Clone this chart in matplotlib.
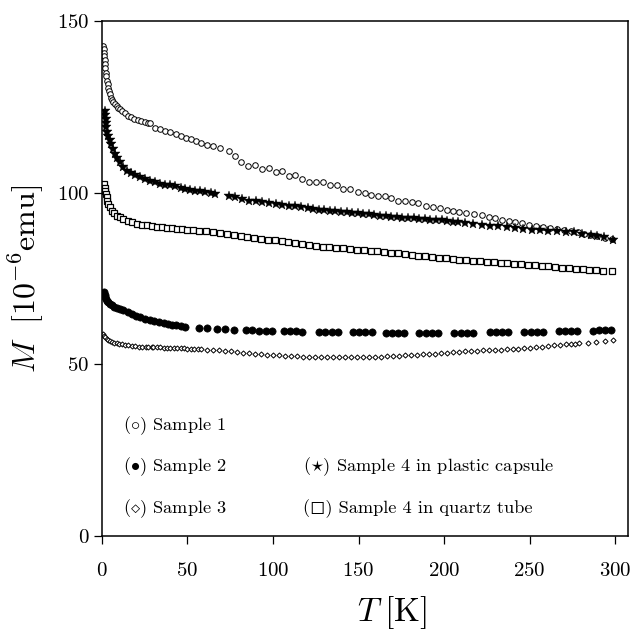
import matplotlib
matplotlib.use("Agg")
import matplotlib.pyplot as plt

plt.rcParams['font.family'] = ['cmr10', 'DejaVu Serif']
plt.rcParams['mathtext.fontset'] = 'cm'
plt.rcParams['axes.formatter.use_mathtext'] = True

# (T [K], M [1e-6 emu])
sample1 = [
    (0.8, 142.7), (1.0, 141.8), (1.2, 140.8), (1.4, 139.8), (1.6, 138.6), (1.8, 137.4),
    (2.0, 136.4), (2.3, 135.0), (2.6, 134.0), (3.0, 132.6), (3.3, 131.6), (3.7, 130.5),
    (4.2, 129.5), (4.7, 128.7), (5.3, 127.7), (6.0, 126.9), (6.6, 126.3), (7.5, 125.7),
    (8.5, 125.2), (9.5, 124.7), (10.6, 124.3), (12.0, 123.8), (13.5, 123.1), (15.5, 122.4),
    (17.0, 122.0), (19.0, 121.6), (21.3, 121.1), (23.0, 120.8), (25.0, 120.6), (27.0, 120.3),
    (28.2, 120.2), (31.0, 118.8), (34.0, 118.6), (37.0, 118.0), (40.0, 117.6), (43.0, 117.0),
    (46.0, 116.4), (49.0, 115.9), (52.0, 115.6), (55.0, 115.1), (58.0, 114.6), (61.5, 114.0),
    (65.0, 113.6), (69.0, 113.0), (74.0, 112.0), (78.0, 110.8), (81.5, 109.0), (85.5, 107.8),
    (89.5, 108.1), (93.5, 107.0), (97.5, 107.2), (101.5, 105.9), (105.5, 106.2), (109.5, 105.0),
    (113.0, 105.1), (117.0, 104.0), (121.0, 103.0), (125.0, 103.2), (129.0, 103.2), (133.5, 102.2),
    (137.5, 102.2), (141.0, 101.1), (145.0, 101.1), (149.5, 100.1), (153.5, 99.9), (157.5, 99.4),
    (161.5, 99.0), (165.5, 99.0), (169.0, 98.5), (173.0, 97.7), (177.0, 97.5), (181.0, 97.3),
    (185.0, 97.0), (189.5, 96.2), (193.5, 95.8), (197.5, 95.4), (201.5, 95.1), (205.5, 94.8),
    (209.0, 94.4), (213.0, 94.2), (217.5, 93.8), (222.0, 93.4), (226.0, 92.9), (230.0, 92.5),
    (234.0, 92.1), (238.0, 91.8), (241.5, 91.4), (245.5, 91.1), (249.5, 90.7), (253.5, 90.4),
    (258.0, 90.1), (262.0, 89.8), (266.0, 89.4), (270.0, 89.1), (274.0, 88.8), (278.0, 88.5),
    (282.0, 88.1), (285.5, 87.7), (289.5, 87.4), (294.0, 86.8), (298.0, 86.5),
]

sample2 = [
    (1.4, 71.0), (1.6, 70.3), (1.8, 69.6), (2.4, 69.0), (3.0, 68.5), (3.7, 68.1), (4.6, 67.6),
    (5.7, 67.2), (7.0, 66.8), (8.5, 66.5), (10.6, 66.2), (12.5, 65.7), (15.0, 65.2), (17.4, 64.7),
    (20.0, 64.2), (22.5, 63.7), (25.2, 63.3), (28.0, 62.9), (30.5, 62.6), (33.1, 62.3),
    (36.0, 62.0), (38.5, 61.8), (40.9, 61.6), (43.5, 61.4), (46.0, 61.2), (48.7, 61.0),
    (56.5, 60.7), (61.5, 60.6), (67.3, 60.4), (72.2, 60.3), (77.1, 60.1),
    (84.0, 59.9), (87.9, 59.9), (91.8, 59.8), (95.7, 59.8), (99.6, 59.7),
    (106.5, 59.7), (110.0, 59.6), (113.5, 59.6), (117.0, 59.5),
    (127.0, 59.5), (130.6, 59.4), (134.2, 59.4), (137.8, 59.4),
    (146.8, 59.3), (150.4, 59.3), (154.0, 59.3), (157.6, 59.3),
    (166.0, 59.2), (169.6, 59.2), (173.2, 59.2), (176.8, 59.2),
    (185.6, 59.2), (189.2, 59.2), (192.8, 59.2), (196.4, 59.2),
    (206.0, 59.2), (209.6, 59.2), (213.2, 59.2), (216.8, 59.2),
    (226.7, 59.3), (230.3, 59.3), (233.9, 59.3), (237.5, 59.3),
    (247.0, 59.4), (250.6, 59.4), (254.2, 59.4), (257.8, 59.5),
    (267.0, 59.6), (270.6, 59.6), (274.2, 59.7), (277.8, 59.7),
    (287.0, 59.8), (290.6, 59.9), (294.2, 59.9), (297.8, 60.0),
]

sample3 = [
    (0.8, 58.7), (1.2, 58.2), (1.8, 57.9), (2.7, 57.5), (3.5, 57.1), (4.5, 56.8), (5.7, 56.5),
    (7.0, 56.3), (8.5, 56.1), (10.0, 55.95), (11.5, 55.8), (13.5, 55.6), (15.5, 55.5),
    (17.5, 55.4), (19.4, 55.3), (21.5, 55.2), (23.5, 55.1), (25.5, 55.05), (27.2, 55.0),
    (29.0, 55.0), (30.0, 55.0), (32.0, 55.0), (34.0, 54.95), (36.0, 54.9), (38.0, 54.85),
    (40.0, 54.8), (42.0, 54.75), (44.0, 54.7), (46.0, 54.7), (48.0, 54.65), (50.0, 54.6),
    (52.0, 54.55), (54.0, 54.5), (56.0, 54.45), (58.0, 54.4), (61.5, 54.3), (65.0, 54.2),
    (68.5, 54.1), (72.0, 54.0), (75.5, 53.85), (79.0, 53.65), (82.5, 53.45), (86.0, 53.3),
    (89.5, 53.1), (93.0, 52.95), (96.5, 52.8), (100.0, 52.7), (103.5, 52.6), (107.0, 52.5),
    (110.5, 52.4), (114.0, 52.3), (117.5, 52.25), (121.0, 52.2), (124.5, 52.15), (128.0, 52.1),
    (131.5, 52.1), (135.0, 52.05), (138.5, 52.05), (142.0, 52.05), (145.5, 52.05), (149.0, 52.1),
    (152.5, 52.1), (156.0, 52.15), (159.5, 52.2), (163.0, 52.25), (166.5, 52.3), (170.0, 52.4),
    (173.5, 52.5), (177.0, 52.6), (180.5, 52.7), (184.0, 52.8), (187.5, 52.9), (191.0, 53.0),
    (194.5, 53.15), (198.0, 53.3), (201.5, 53.45), (205.0, 53.55), (208.5, 53.65), (212.0, 53.75),
    (215.5, 53.85), (219.0, 53.95), (222.5, 54.05), (226.0, 54.1), (229.5, 54.2), (233.0, 54.3),
    (236.5, 54.4), (240.0, 54.5), (243.5, 54.6), (247.0, 54.75), (250.5, 54.9), (254.0, 55.05),
    (257.5, 55.2), (261.0, 55.35), (264.5, 55.5), (268.0, 55.6), (271.5, 55.8), (274.0, 55.9),
    (276.5, 56.0), (279.0, 56.1), (284.0, 56.3), (289.0, 56.55), (294.0, 56.8), (299.0, 57.2),
]

plastic = [
    (1.8, 123.8), (2.0, 122.5), (2.1, 121.4), (2.3, 120.2), (2.5, 119.0), (3.0, 117.8),
    (3.7, 116.6), (4.5, 115.4), (5.3, 114.2), (6.4, 112.7), (7.6, 111.2), (9.0, 110.0),
    (10.5, 108.8), (12.5, 107.6), (14.5, 106.4), (17.0, 105.8), (19.4, 105.2), (22.0, 104.6),
    (25.2, 104.0), (28.0, 103.5), (31.1, 103.0), (34.0, 102.6), (37.0, 102.3), (40.0, 102.1),
    (42.9, 102.0), (46.0, 101.5), (48.7, 101.1), (51.5, 100.9), (54.6, 100.6), (57.5, 100.4),
    (60.5, 100.1), (63.5, 99.8), (66.3, 99.6), (74.2, 99.1), (78.0, 98.6), (82.0, 98.1),
    (85.9, 97.7), (89.8, 97.5), (93.8, 97.2), (97.7, 97.0), (101.6, 96.8), (105.5, 96.5),
    (109.4, 96.2), (113.0, 96.1), (116.5, 95.8), (120.2, 95.5), (123.5, 95.3), (126.8, 95.1),
    (130.0, 94.9), (133.3, 94.8), (136.5, 94.6), (139.8, 94.5), (143.0, 94.3), (146.3, 94.2),
    (149.6, 94.0), (152.8, 93.8), (156.0, 93.7), (159.3, 93.5), (162.5, 93.3), (165.8, 93.2),
    (169.1, 93.0), (172.4, 92.9), (175.6, 92.7), (178.9, 92.6), (182.2, 92.5), (185.4, 92.4),
    (188.7, 92.3), (192.0, 92.1), (195.2, 92.0), (198.5, 91.9), (201.8, 91.7), (205.0, 91.6),
    (208.3, 91.4), (212.0, 91.2), (217.0, 90.9), (222.0, 90.7), (226.8, 90.4), (231.5, 90.2),
    (236.6, 89.9), (241.5, 89.6), (246.4, 89.4), (251.3, 89.2), (256.2, 89.1), (261.0, 88.9),
    (266.0, 88.8), (271.0, 88.6), (275.8, 88.5), (280.7, 88.1), (285.6, 87.8), (289.5, 87.5),
    (293.4, 87.2), (298.9, 86.3),
]

quartz = [
    (1.4, 102.5), (1.6, 101.5), (1.8, 100.6), (2.2, 99.6), (2.7, 98.6), (3.2, 97.6), (3.7, 96.7),
    (4.6, 95.7), (5.7, 94.8), (7.0, 94.0), (8.6, 93.3), (10.5, 92.8), (12.5, 92.3), (15.0, 91.8),
    (17.4, 91.4), (20.4, 91.0), (23.3, 90.7), (26.2, 90.5), (29.2, 90.4), (32.0, 90.1),
    (35.0, 89.9), (38.0, 89.7), (41.0, 89.6), (44.0, 89.5), (46.8, 89.4), (50.0, 89.2),
    (53.0, 89.1), (57.0, 88.9), (61.0, 88.7), (65.0, 88.5), (69.0, 88.2), (73.0, 88.0),
    (77.0, 87.7), (81.0, 87.4), (85.0, 87.1), (89.0, 86.9), (93.0, 86.6), (97.0, 86.3),
    (101.0, 86.1), (105.0, 85.9), (109.0, 85.6), (113.0, 85.2), (117.0, 85.0), (121.0, 84.7),
    (125.0, 84.5), (129.0, 84.3), (133.0, 84.1), (137.0, 83.9), (141.0, 83.8), (145.0, 83.6),
    (149.0, 83.4), (153.0, 83.3), (157.0, 83.1), (161.0, 82.9), (165.0, 82.7), (169.0, 82.5),
    (173.0, 82.3), (177.0, 82.1), (181.0, 81.9), (185.0, 81.7), (189.0, 81.6), (193.0, 81.4),
    (197.0, 81.1), (201.0, 80.9), (205.0, 80.7), (209.0, 80.5), (213.0, 80.3), (217.0, 80.2),
    (221.0, 80.1), (225.0, 79.9), (229.0, 79.8), (233.0, 79.6), (237.0, 79.5), (241.0, 79.3),
    (245.0, 79.2), (249.0, 79.0), (253.0, 78.9), (257.0, 78.7), (261.0, 78.6), (265.0, 78.4),
    (269.0, 78.2), (273.0, 78.0), (277.0, 77.8), (281.0, 77.7), (285.0, 77.5), (289.0, 77.4),
    (293.0, 77.2), (298.0, 77.1),
]

labels = [r"($\circ$) Sample 1", r"($\bullet$) Sample 2", r"($\diamond$) Sample 3",
          r"($\star$) Sample 4 in plastic capsule", "(\u25fb) Sample 4 in quartz tube"]

fig = plt.figure(figsize=(6.31, 6.33), dpi=100)
ax = fig.add_axes([0.1616, 0.1532, 0.8336, 0.8136])


def plot_series(data, **kw):
    t = [p[0] for p in data]
    m = [p[1] for p in data]
    ax.plot(t, m, linestyle='none', **kw)


plot_series(sample1, marker='o', ms=4.0, mfc='white', mec='black', mew=0.7)
plot_series(plastic, marker='*', ms=7.5, mfc='black', mec='black', mew=0.3)
plot_series(quartz, marker='s', ms=4.8, mfc='white', mec='black', mew=0.9)
plot_series(sample2, marker='o', ms=5.2, mfc='black', mec='black', mew=0.5)
plot_series(sample3, marker='D', ms=2.6, mfc='white', mec='black', mew=0.7)

ax.set_xlim(0, 307.5)
ax.set_ylim(0, 150)
ax.set_xticks([0, 50, 100, 150, 200, 250, 300])
ax.set_yticks([0, 50, 100, 150])
ax.tick_params(direction='out', length=6, width=0.9, labelsize=15)
ax.tick_params(axis='x', pad=13)
ax.tick_params(axis='y', pad=3)
for s in ax.spines.values():
    s.set_linewidth(1.1)

ax.set_xlabel(r"$T\;[\mathrm{K}]$", fontsize=24)
ax.xaxis.set_label_coords(0.551, -0.112)
ax.set_ylabel(r"$M\ \ [10^{-6}\mathrm{emu}]$", fontsize=23, labelpad=8)

fam = ['cmr10', 'DejaVu Sans']
fs = 13.2
ax.text(0.040, 0.2136, labels[0], transform=ax.transAxes, fontsize=fs, va='center', family=fam)
ax.text(0.040, 0.134, labels[1], transform=ax.transAxes, fontsize=fs, va='center', family=fam)
ax.text(0.040, 0.054, labels[2], transform=ax.transAxes, fontsize=fs, va='center', family=fam)
ax.text(0.383, 0.134, labels[3], transform=ax.transAxes, fontsize=fs, va='center', family=fam)
ax.text(0.383, 0.054, labels[4], transform=ax.transAxes, fontsize=fs, va='center', family=fam)

fig.savefig("out.png", dpi=100)
